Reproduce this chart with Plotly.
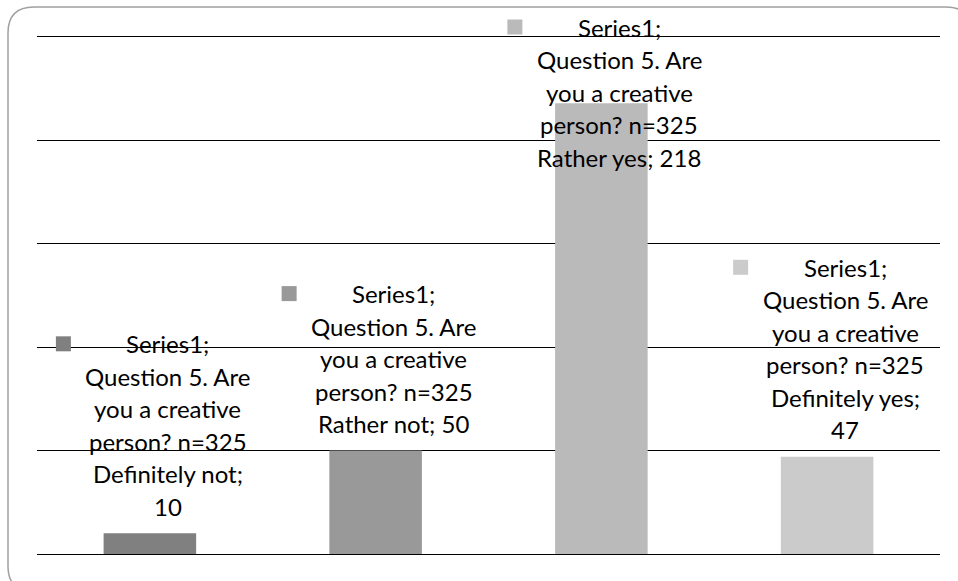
import plotly.graph_objects as go

categories = ["Definitely not", "Rather not", "Rather yes", "Definitely yes"]
values = [10, 50, 218, 47]
series_name = "Series1"
question_lines = ["Question 5. Are", "you a creative", "person? n=325"]
bar_colors = ["#808080", "#999999", "#bababa", "#cbcbcb"]

W, H = 958, 581
ML, MR, MT, MB = 37, 18, 37, 27
Y_MAX = 250
plot_w = W - ML - MR
plot_h = H - MT - MB
px_per_unit = plot_h / Y_MAX

FONT = dict(family="Lato, Carlito, Calibri, sans-serif", size=24, color="#000000")
LINE_H = 32.5
GAP = 27
XSHIFT = 18


def px(x):
    return (x - ML) / plot_w


def py(y):
    return (MT + plot_h - y) / plot_h


fig = go.Figure()
fig.add_trace(go.Bar(x=categories, y=values, marker=dict(color=bar_colors, line=dict(width=0)),
                     width=0.41, hoverinfo="skip", showlegend=False))

annotations = []
shapes = []
for i, (cat, v) in enumerate(zip(categories, values)):
    last = f"{cat}; {v}"
    if len(last) > 16:
        tail = [f"{cat};", str(v)]
    else:
        tail = [last]
    lines = [f"{series_name};"] + question_lines + tail
    n = len(lines)
    bar_top_px = MT + plot_h - v * px_per_unit
    top_shift = GAP + (n - 1) * LINE_H
    # keep label inside the chart (clamp top line)
    top_line_px = bar_top_px - top_shift
    offset = max(0.0, 27 - top_line_px)
    for k, line in enumerate(lines):
        ys = GAP + (n - 1 - k) * LINE_H - offset
        annotations.append(dict(x=cat, y=v, xref="x", yref="y", text=line, showarrow=False,
                                xanchor="center", yanchor="middle", xshift=XSHIFT, yshift=ys,
                                font=FONT))
    sq_center_px = top_line_px + offset
    shapes.append(dict(type="rect", xref="x", yref="paper", xsizemode="pixel", ysizemode="pixel",
                       xanchor=i, yanchor=py(sq_center_px), x0=-94, x1=-79, y0=-7.5, y1=7.5,
                       fillcolor=bar_colors[i], line=dict(width=0), layer="above"))

# rounded chart border (in paper coords)
L, T, R, B, r = 8, 7, 972, 592, 26
path = (f"M {px(L + r)},{py(T)} L {px(R - r)},{py(T)} Q {px(R)},{py(T)} {px(R)},{py(T + r)} "
        f"L {px(R)},{py(B - r)} Q {px(R)},{py(B)} {px(R - r)},{py(B)} "
        f"L {px(L + r)},{py(B)} Q {px(L)},{py(B)} {px(L)},{py(B - r)} "
        f"L {px(L)},{py(T + r)} Q {px(L)},{py(T)} {px(L + r)},{py(T)} Z")
shapes.append(dict(type="path", xref="paper", yref="paper", path=path,
                   line=dict(color="#a0a0a0", width=1.5), layer="below"))

fig.update_layout(
    width=W, height=H,
    margin=dict(l=ML, r=MR, t=MT, b=MB, pad=0),
    paper_bgcolor="white", plot_bgcolor="white",
    annotations=annotations, shapes=shapes,
    xaxis=dict(showticklabels=False, showgrid=False, zeroline=False,
               showline=True, mirror=True, linecolor="#000000", linewidth=1,
               range=[-0.5, 3.5], fixedrange=True),
    yaxis=dict(range=[0, Y_MAX], dtick=50, showticklabels=False, showgrid=True,
               gridcolor="#000000", gridwidth=1, zeroline=False, showline=False, fixedrange=True),
    showlegend=False,
)

fig.write_html("out.html", config={"displayModeBar": False})
